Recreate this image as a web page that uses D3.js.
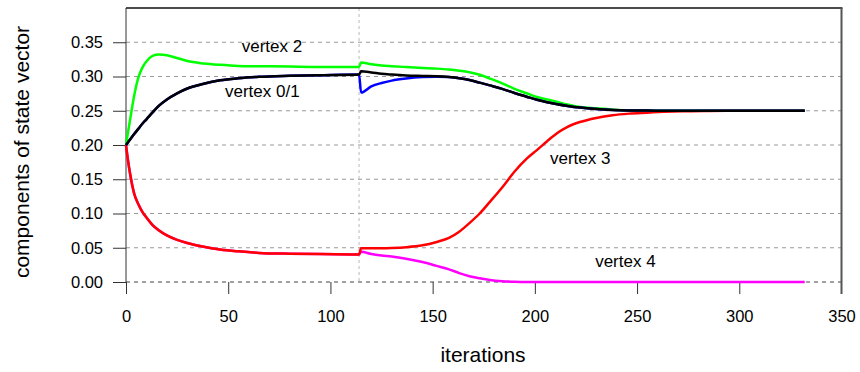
<!DOCTYPE html>
<meta charset="utf-8">
<style>
body{margin:0;background:#fff;}
text{font-family:"Liberation Sans",Arial,sans-serif;fill:#000;}
.tick text{font-size:16.5px;}
.grid{stroke:#999;stroke-dasharray:4,4;stroke-width:1;}
.series{fill:none;stroke-width:2.5px;stroke-linejoin:round;}
</style>
<body>
<script src="https://cdn.jsdelivr.net/npm/d3@7"></script>
<script>

var iters = [0,1,2,3,4,6,8,10,13,16,20,25,30,38,46,55,65,80,95,114,
  115,120,125,130,137,145,152,158,163,168,173,178,184,190,196,201,206,211,216,222,
  230,238,246,255,263,272,285,300,315,332];

var vertex0 = [0.200,0.204,0.208,0.212,0.216,0.2235,0.231,0.2375,0.2475,0.257,0.2665,0.2755,0.2825,0.2895,0.2945,0.2975,0.2995,0.301,0.302,0.303,
  0.2765,0.2855,0.2905,0.294,0.297,0.2991,0.2998,0.2992,0.2975,0.2948,0.291,0.287,0.282,0.276,0.2705,0.266,0.2625,0.2595,0.257,0.2546,
  0.2525,0.2512,0.2505,0.2502,0.2501,0.25,0.25,0.25,0.25,0.25];
var vertex1 = [0.200,0.204,0.208,0.212,0.216,0.2235,0.231,0.2375,0.2475,0.257,0.2665,0.2755,0.2825,0.2895,0.2945,0.2975,0.2995,0.301,0.302,0.303,
  0.3075,0.306,0.304,0.3028,0.3015,0.3008,0.3003,0.2992,0.2975,0.2948,0.291,0.287,0.282,0.276,0.2705,0.266,0.2625,0.2595,0.257,0.2546,
  0.2525,0.2512,0.2505,0.2502,0.2501,0.25,0.25,0.25,0.25,0.25];
var vertex2 = [0.200,0.219,0.237,0.255,0.272,0.298,0.313,0.322,0.330,0.332,0.331,0.327,0.3225,0.319,0.317,0.3155,0.315,0.3145,0.314,0.314,
  0.3205,0.318,0.316,0.315,0.3138,0.3125,0.3115,0.3102,0.3085,0.3062,0.3025,0.297,0.290,0.282,0.2755,0.270,0.2665,0.263,0.259,0.2555,
  0.2535,0.2517,0.2505,0.2502,0.2501,0.25,0.25,0.25,0.25,0.25];
var vertex3 = [0.200,0.177,0.158,0.142,0.129,0.114,0.1025,0.094,0.083,0.0755,0.068,0.0615,0.057,0.0515,0.0476,0.0448,0.0425,0.0413,0.0408,0.0403,
  0.0492,0.0492,0.0493,0.0497,0.0508,0.0535,0.0585,0.0645,0.0735,0.086,0.100,0.117,0.138,0.161,0.180,0.1925,0.2055,0.2175,0.2265,0.2335,
  0.2395,0.2435,0.2458,0.2472,0.2484,0.2493,0.2498,0.25,0.25,0.25];
var vertex4 = [0.200,0.177,0.158,0.142,0.129,0.114,0.1025,0.094,0.083,0.0755,0.068,0.0615,0.057,0.0515,0.0476,0.0448,0.0425,0.0413,0.0408,0.0403,
  0.0442,0.041,0.0388,0.0372,0.034,0.0292,0.0235,0.0185,0.013,0.0085,0.0055,0.003,0.0012,0.0003,0,0,0,0,0,0,
  0,0,0,0,0,0,0,0,0,0];

var switchIter = 114;
var xTicks = [0,50,100,150,200,250,300,350];
var yTicks = [0,0.05,0.10,0.15,0.20,0.25,0.30,0.35];

// draw order: magenta under red, blue under black
var series = [
  {name:"vertex 4", values:vertex4, color:"#ff00ff"},
  {name:"vertex 3", values:vertex3, color:"#ff0000"},
  {name:"vertex 2", values:vertex2, color:"#00ff00"},
  {name:"vertex 0", values:vertex0, color:"#0000ff"},
  {name:"vertex 1", values:vertex1, color:"#000000"}
];
var labels = [
  {text:"vertex 2",   it:56.6, v:0.336},
  {text:"vertex 0/1", it:48.4, v:0.2705},
  {text:"vertex 3",   it:207.4,v:0.1723},
  {text:"vertex 4",   it:229.5,v:0.0226}
];

var W = 860, H = 372;
var x = d3.scaleLinear().domain([0,350]).range([126,841.5]);
var y = d3.scaleLinear().domain([0,0.4]).range([282,8]);

var svg = d3.select("body").append("svg").attr("width",W).attr("height",H);

// grid
svg.append("g").selectAll("line").data(yTicks).join("line")
  .attr("class","grid")
  .attr("x1",x(0)).attr("x2",x(350))
  .attr("y1",d=>y(d)).attr("y2",d=>y(d))
  .style("stroke",d=>d==0?"#444":null);
svg.append("line")
  .attr("x1",x(switchIter)).attr("x2",x(switchIter))
  .attr("y1",y(0.4)).attr("y2",y(0))
  .style("stroke","#bbb").style("stroke-dasharray","3,3");

// axes
var ya = svg.append("g").attr("transform","translate("+x(0)+",0)")
  .call(d3.axisLeft(y).tickValues(yTicks).tickFormat(d3.format(".2f")).tickSize(13).tickPadding(10));
var xa = svg.append("g").attr("transform","translate(0,"+y(0)+")")
  .call(d3.axisBottom(x).tickValues(xTicks).tickFormat(d3.format("d")).tickSize(12).tickPadding(16));
[ya,xa].forEach(function(a){
  a.select(".domain").remove();
  a.selectAll(".tick line").attr("stroke","#333");
  a.selectAll(".tick text").attr("fill","#000");
});
xa.selectAll(".tick").filter(d=>d==350).select("line").remove();

// frame
svg.append("line").attr("x1",x(0)).attr("x2",x(0)).attr("y1",y(0.4)).attr("y2",y(0)).attr("stroke","#333");
svg.append("line").attr("x1",x(0)).attr("x2",x(350)+1).attr("y1",y(0.4)).attr("y2",y(0.4)).attr("stroke","#111").attr("stroke-width",1.5);
svg.append("line").attr("x1",x(350)).attr("x2",x(350)).attr("y1",y(0.4)).attr("y2",y(0)+12).attr("stroke","#555").attr("stroke-width",2);

// lines
var line = d3.line().x(d=>x(d[0])).y(d=>y(d[1])).curve(d3.curveMonotoneX);
svg.append("g").selectAll("path").data(series).join("path")
  .attr("class","series")
  .attr("stroke",d=>d.color)
  .attr("d",d=>line(iters.map((it,i)=>[it,d.values[i]])));

// labels
svg.append("g").selectAll("text").data(labels).join("text")
  .attr("x",d=>x(d.it)).attr("y",d=>y(d.v))
  .style("font-size","17px")
  .text(d=>d.text);

svg.append("text").attr("x",483).attr("y",362).attr("text-anchor","middle")
  .style("font-size","21px").text("iterations");
svg.append("text").attr("transform","translate(29,152) rotate(-90)").attr("text-anchor","middle")
  .style("font-size","21px").text("components of state vector");
</script>
</body>
